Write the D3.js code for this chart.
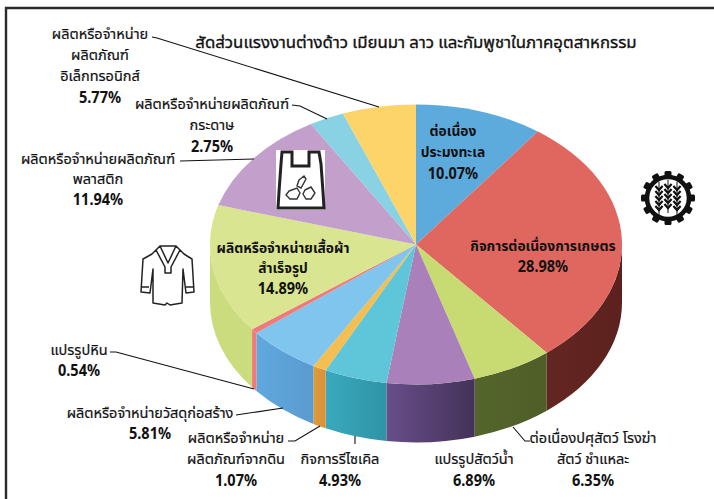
<!DOCTYPE html>
<html>
<head>
<meta charset="utf-8">
<script src="https://cdn.jsdelivr.net/npm/d3@7"></script>
<style>
  html, body { margin: 0; padding: 0; background: #fff; overflow: hidden; }
  text { font-family: "Noto Sans", "Noto Sans Thai", "DejaVu Sans", sans-serif; fill: #111; }
</style>
</head>
<body>
<script>
// Chart values, clockwise from 12 o'clock
const names = [
  ["ต่อเนื่อง", "ประมงทะเล"],
  ["กิจการต่อเนื่องการเกษตร"],
  ["ต่อเนื่องปศุสัตว์ โรงฆ่า", "สัตว์ ชำแหละ"],
  ["แปรรูปสัตว์น้ำ"],
  ["กิจการรีไซเคิล"],
  ["ผลิตหรือจำหน่าย", "ผลิตภัณฑ์จากดิน"],
  ["ผลิตหรือจำหน่ายวัสดุก่อสร้าง"],
  ["แปรรูปหิน"],
  ["ผลิตหรือจำหน่ายเสื้อผ้า", "สำเร็จรูป"],
  ["ผลิตหรือจำหน่ายผลิตภัณฑ์", "พลาสติก"],
  ["ผลิตหรือจำหน่ายผลิตภัณฑ์", "กระดาษ"],
  ["ผลิตหรือจำหน่าย", "ผลิตภัณฑ์", "อิเล็กทรอนิกส์"]
];
const shares = [10.07, 28.98, 6.35, 6.89, 4.93, 1.07, 5.81, 0.54, 14.89, 11.94, 2.75, 5.77];
const title = "สัดส่วนแรงงานต่างด้าว เมียนมา ลาว และกัมพูชาในภาคอุตสาหกรรม";

const topColors = ["#5dabdd", "#e0675f", "#c8da72", "#a980ba", "#5ec6d8", "#f4be50",
                   "#7fc5ee", "#ee7a7a", "#d9e590", "#c3a0cb", "#88d2e4", "#fdd46a"];
const sideLight = ["#5dabdd", "#642622", "#54652b", "#684e8a", "#3aa9bd", "#df9a3c",
                   "#5fa8de", "#ee7a7a", "#cbdc7e", "#c3a0cb", "#88d2e4", "#fdd46a"];
const sideDark  = ["#5dabdd", "#5c211e", "#4f5e28", "#443258", "#2f93a6", "#d99237",
                   "#5a9bd0", "#ee7a7a", "#cbdc7e", "#c3a0cb", "#88d2e4", "#fdd46a"];

// where each label block sits: centre x, y of the first line, line step
const labelSpots = [
  [453, 136, 21], [543, 251, 20], [593, 443, 21], [474, 464, 21], [340, 464, 21], [236, 443, 21],
  [150, 418, 20], [79, 355, 20], [283, 253, 20], [98, 164, 20], [212, 109, 21], [100, 39, 21]
];
// leader lines, one per slice that has one
const leaders = [
  null, null,
  [[513, 427], [525, 441], [530, 441]],
  null,
  [[355, 436], [355, 444]],
  [[288, 441], [295, 441], [320, 426]],
  [[236, 415], [283, 408]],
  [[110, 352], [116, 352], [254, 389]],
  null,
  [[180, 161], [254, 159]],
  [[292, 105], [300, 106], [327, 119]],
  [[152, 37], [157, 38], [379, 107]]
];

const width = 714, height = 499;
const cx = 416, cy = 244.5, rx = 206, ry = 140, depth = 58;

const svg = d3.select("body").append("svg")
  .attr("width", width)
  .attr("height", height);

// left and top frame of the pasted picture
svg.append("path")
  .attr("d", `M6,${height} V8 H${width}`)
  .attr("fill", "none")
  .attr("stroke", "#2a2a2a")
  .attr("stroke-width", 2.4);

const pie = d3.pie().sort(null)(shares);
const arcs = pie.map(d => ({ start: d.startAngle, end: d.endAngle }));
const px = a => cx + rx * Math.sin(a);
const py = a => cy - ry * Math.cos(a);

const defs = svg.append("defs");
shares.forEach((d, i) => {
  const g = defs.append("linearGradient").attr("id", "side" + i);
  g.append("stop").attr("offset", "0%").attr("stop-color", sideLight[i]);
  g.append("stop").attr("offset", "100%").attr("stop-color", sideDark[i]);
});

// side walls: only the part of each slice on the front half shows
arcs.forEach((d, i) => {
  const a0 = Math.max(d.start, Math.PI / 2);
  const a1 = Math.min(d.end, Math.PI * 1.5);
  if (a1 <= a0) return;
  svg.append("path")
    .attr("d", `M${px(a0)},${py(a0)} A${rx},${ry} 0 0 1 ${px(a1)},${py(a1)}
      L${px(a1)},${py(a1) + depth} A${rx},${ry} 0 0 0 ${px(a0)},${py(a0) + depth} Z`)
    .attr("fill", `url(#side${i})`);
});

// top face: a circular pie squashed into an ellipse
const arc = d3.arc().innerRadius(0).outerRadius(rx);
svg.append("g")
  .attr("transform", `translate(${cx},${cy}) scale(1,${ry / rx})`)
  .selectAll("path")
  .data(pie)
  .join("path")
  .attr("d", arc)
  .attr("fill", (d, i) => topColors[i]);

// leaders
const line = d3.line();
leaders.forEach(l => {
  if (!l) return;
  svg.append("path")
    .attr("d", line(l))
    .attr("fill", "none")
    .attr("stroke", "#111")
    .attr("stroke-width", 1.1);
});

// title and labels
svg.append("text")
  .attr("x", cx).attr("y", 47.5)
  .attr("text-anchor", "middle")
  .attr("font-size", 16.8)
  .attr("stroke", "#111")
  .attr("stroke-width", 0.35)
  .text(title);

names.forEach((lines, i) => {
  const [x, y, step] = labelSpots[i];
  const inside = i === 0 || i === 1 || i === 8;
  lines.forEach((t, k) => {
    svg.append("text")
      .attr("x", x).attr("y", y + k * step)
      .attr("text-anchor", "middle")
      .attr("font-size", inside ? 13.8 : 14.5)
      .attr("font-weight", inside ? 700 : 400)
      .attr("stroke", inside ? "none" : "#111")
      .attr("stroke-width", 0.2)
      .text(t);
  });
  // percentages are tall and condensed in the original
  svg.append("text")
    .attr("transform", `translate(${x},${y + lines.length * step + 0.5}) scale(0.88,1)`)
    .attr("text-anchor", "middle")
    .attr("font-size", 16.5)
    .attr("font-weight", 700)
    .text(shares[i].toFixed(2) + "%");
});

// icon: plastic bag
const bag = svg.append("g").attr("transform", "translate(276,150)");
bag.append("rect").attr("width", 49).attr("height", 60).attr("fill", "#fff");
bag.append("path")
  .attr("d", "M2,58 L3,42 L5,14 L6,2 H16 V16 H33 V2 H43 L45,14 L47,42 L48,58 Z")
  .attr("fill", "none").attr("stroke", "#222").attr("stroke-width", 3);
bag.append("path")
  .attr("d", "M23,30 l5,-4 l2,3 l-5,9 l-4,-2 Z M13,41 l8,-3 l3,5 l-3,6 h-7 l-4,-4 Z M29,40 l6,-3 l4,6 l-4,6 h-5 l-3,-5 Z")
  .attr("fill", "none").attr("stroke", "#333").attr("stroke-width", 1.4);

// icon: shirt
svg.append("g").attr("transform", "translate(140,243)")
  .append("path")
  .attr("d", "M20,3 H36 L44,11 L52,16 L54,49 L46,50 L43,26 L42,60 L30,62 L27,60 L25,62 L13,60 L13,26 L10,50 L1,49 L3,16 L12,11 Z M20,3 L28,20 L36,3 M16,7 L25,24 V30 H31 V24 L40,7 M1,44 H9 M46,44 H54")
  .attr("fill", "#fff").attr("stroke", "#222").attr("stroke-width", 1.5)
  .attr("stroke-linejoin", "round");

// icon: gear with three ears of wheat
const gear = svg.append("g").attr("transform", "translate(668,198)");
d3.range(12).forEach(k => {
  gear.append("rect")
    .attr("x", -3.5).attr("y", -27).attr("width", 7).attr("height", 8).attr("rx", 1.5)
    .attr("fill", "#111")
    .attr("transform", `rotate(${k * 30})`);
});
gear.append("circle").attr("r", 21).attr("fill", "#fff").attr("stroke", "#111").attr("stroke-width", 4.6);
[-9, 0, 9].forEach((ox, j) => {
  const ear = gear.append("g").attr("transform", `translate(${ox},${j === 1 ? -1 : 1})`);
  ear.append("path").attr("d", "M0,-17 V16").attr("stroke", "#111").attr("stroke-width", 1).attr("fill", "none");
  d3.range(5).forEach(n => {
    ear.append("path")
      .attr("d", `M-3.6,${-13 + n * 5} L0,${-9 + n * 5} L3.6,${-13 + n * 5}`)
      .attr("fill", "none").attr("stroke", "#111").attr("stroke-width", 2.2);
  });
});
</script>
</body>
</html>
